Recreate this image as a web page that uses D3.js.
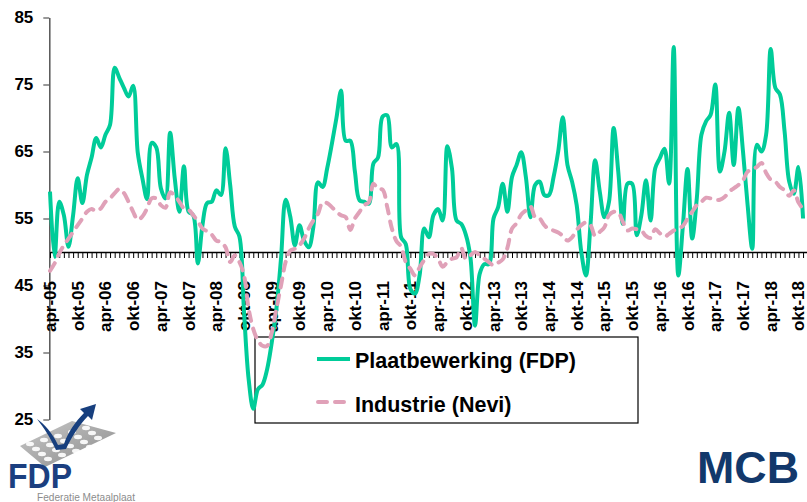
<!DOCTYPE html>
<html>
<head>
<meta charset="utf-8">
<script src="https://cdn.jsdelivr.net/npm/d3@7"></script>
<style>
  body { margin: 0; background: #fff; }
  svg { display: block; font-family: "Liberation Sans", Arial, sans-serif; }
</style>
</head>
<body>
<svg id="chart" width="807" height="502"></svg>
<script>
// monthly index, apr-05 .. nov-18
const plaat = [
  59, 49.3, 57.5, 55.5, 50.8, 55.5, 61, 57.3, 61.5, 64.1, 67, 65.6,
  67.5, 69, 77.5, 76, 74.5, 73.2, 74.8, 64.8, 61, 57.9, 66.3, 65.6,
  59.5, 58, 67.8, 61, 56, 62.8, 56, 55.5, 48.3, 54, 57.3, 57.5,
  59.2, 58.5, 65.5, 60, 53.8, 52.3, 41, 31, 26.6, 29.5, 30.2, 32.5,
  36.5, 41.5, 49, 57.8, 55.3, 51, 54, 51.7, 50.7, 53.7, 60.4, 59.7,
  62.5, 66.1, 70, 74.1, 66.6, 66.6, 62, 57.7, 57.5, 57.2, 63.2, 64.1,
  70.2, 70.4, 65.6, 66.1, 52.2, 51.2, 44.5, 43.8, 46.5, 53.5, 52.2, 55.5,
  56.4, 54.7, 65.8, 62.5, 54.7, 54.2, 52.6, 49.2, 39, 46.7, 48.2, 48.2,
  55, 56.7, 60.2, 56, 61.2, 63, 64.9, 61.2, 55.2, 60, 60.5, 58.5,
  58.5, 61.2, 65, 70.1, 63, 60.5, 57, 50, 46.5, 54.2, 63.7, 59,
  55.2, 57.5, 68.5, 62, 54.2, 60.2, 60.2, 52.5, 55.5, 60.7, 54.7, 62.5,
  64, 65.4, 60.2, 80.6, 46.5, 54, 62.4, 52, 58, 67.5, 69.5, 70.5,
  75, 62, 65, 70.8, 63, 71.5, 65, 57, 50.5, 66, 65, 67.5,
  80.3, 74.5, 73.5, 68, 60.5, 58.7, 62.7, 55
];

const nevi = [
  47.2, 48.3, 49.8, 51, 52, 53, 54, 55, 56, 56.4, 56.1, 56.5,
  57.5, 58, 58.8, 59.4, 58.8, 57.5, 56, 54.8, 55.3, 56.5, 58, 58,
  57, 56.6, 58.9, 58.4, 57.5, 56.5, 56.3, 55.5, 54.6, 53.5, 53.1, 52.6,
  51.7, 51.5, 50.7, 48.5, 49.5, 48.5, 46.5, 41.5, 38.5, 36.8, 36, 36,
  38, 41.5, 45, 48.5, 50.2, 50.5, 51, 52, 53.5, 54.7, 55.7, 57.4,
  57.3, 56.7, 56, 55.5, 55.2, 53.3, 55, 56, 57, 57.4, 60.2, 59.4,
  59.3, 56.7, 53.5, 51.6, 50.8, 48.5, 47.5, 46.5, 47.7, 48.8, 49.7, 49.7,
  49, 47.8, 48.5, 49, 49.2, 50.6, 49, 49.5, 50, 49.5, 49, 48.5,
  48, 48.4, 48.9, 50.6, 53.5, 54.3, 55.6, 56.2, 56.8, 55.2, 55, 54,
  53.4, 53.2, 52.9, 52.4, 51.7, 52.2, 53.3, 54, 54.4, 54, 52.4, 53,
  53.7, 55.5, 56, 55.9, 54.5, 53.2, 53.5, 53.4, 53.2, 52.4, 52.1, 53.4,
  52.8, 52.3, 52.7, 53.2, 53.5, 53.9, 55, 56, 57, 57.5, 58.1, 58,
  57.8, 57.8, 58.2, 59, 59.5, 60, 60.7, 62, 62.3, 62.7, 63.3, 61.8,
  60.8, 60.5, 59.7, 59.2, 58.4, 59.2, 57.4, 56.4
];

const tickLabels = [
  "apr-05", "okt-05", "apr-06", "okt-06", "apr-07", "okt-07", "apr-08",
  "okt-08", "apr-09", "okt-09", "apr-10", "okt-10", "apr-11", "okt-11",
  "apr-12", "okt-12", "apr-13", "okt-13", "apr-14", "okt-14", "apr-15",
  "okt-15", "apr-16", "okt-16", "apr-17", "okt-17", "apr-18", "okt-18"
];
const yTicks = [25, 35, 45, 55, 65, 75, 85];
const seriesNames = ["Plaatbewerking (FDP)", "Industrie (Nevi)"];

const green = "#00cc99";
const pink = "#e0a1b8";

const svg = d3.select("#chart");

const x = d3.scaleLinear().domain([0, 164]).range([50, 50 + 164 * 4.62]);
const y = d3.scaleLinear().domain([25, 85]).range([419.5, 17.5]);

// y axis
const yAxis = svg.append("g")
  .attr("transform", "translate(49.3,0)")
  .call(d3.axisLeft(y).tickValues(yTicks).tickSize(6).tickSizeOuter(0).tickPadding(10));
yAxis.select(".domain").attr("stroke", "#555").attr("stroke-width", 1.5);
yAxis.selectAll(".tick line").attr("stroke", "#555").attr("stroke-width", 1.2);
yAxis.selectAll(".tick text")
  .attr("font-family", "Liberation Sans, Arial, sans-serif")
  .attr("font-size", 17).attr("font-weight", "bold").attr("fill", "#000");

// x axis crossing at 50
const xAxis = svg.append("g")
  .attr("transform", `translate(0,${y(50)})`)
  .call(d3.axisBottom(x).tickValues(d3.range(0, 165)).tickSize(6).tickSizeOuter(0).tickFormat(""));
xAxis.select(".domain").attr("stroke", "#000").attr("stroke-width", 1.5);
xAxis.selectAll(".tick line").attr("stroke", "#000").attr("stroke-width", 1);

svg.append("g")
  .selectAll("text")
  .data(tickLabels)
  .join("text")
  .attr("transform", (d, i) => `translate(${x(i * 6) + 6},281) rotate(-90)`)
  .attr("text-anchor", "end")
  .attr("font-size", 17)
  .attr("font-weight", "bold")
  .text(d => d);

// legend box (lines run over it)
svg.append("rect")
  .attr("x", 255).attr("y", 337).attr("width", 383).attr("height", 86)
  .attr("fill", "none").attr("stroke", "#000").attr("stroke-width", 1.2);

const line = d3.line()
  .x((d, i) => x(i))
  .y(d => y(d))
  .curve(d3.curveCatmullRom.alpha(0.5));

svg.append("path")
  .attr("d", line(plaat))
  .attr("fill", "none")
  .attr("stroke", green)
  .attr("stroke-width", 4)
  .attr("stroke-linejoin", "round");

svg.append("path")
  .attr("d", line(nevi))
  .attr("fill", "none")
  .attr("stroke", pink)
  .attr("stroke-width", 4)
  .attr("stroke-dasharray", "9,8")
  .attr("stroke-linecap", "round")
  .attr("stroke-linejoin", "round");

// legend entries
const legend = svg.append("g");
legend.append("line")
  .attr("x1", 317).attr("x2", 350).attr("y1", 359).attr("y2", 359)
  .attr("stroke", green).attr("stroke-width", 4);
legend.append("line")
  .attr("x1", 318).attr("x2", 350).attr("y1", 402).attr("y2", 402)
  .attr("stroke", pink).attr("stroke-width", 4)
  .attr("stroke-dasharray", "9,8").attr("stroke-linecap", "round");
legend.selectAll("text.lbl")
  .data(seriesNames)
  .join("text")
  .attr("class", "lbl")
  .attr("x", 355)
  .attr("y", (d, i) => 368 + i * 44)
  .attr("font-size", 21.5)
  .attr("font-weight", "bold")
  .text(d => d);

// FDP logo (rough)
const logo = svg.append("g");
const plate = [[20, 446], [72, 421], [116, 433], [45, 467]];
const grad = svg.append("defs").append("linearGradient")
  .attr("id", "plateGrad").attr("x1", 0).attr("y1", 0).attr("x2", 1).attr("y2", 1);
grad.append("stop").attr("offset", 0).attr("stop-color", "#c9c9c9");
grad.append("stop").attr("offset", 1).attr("stop-color", "#8a8a8a");
logo.append("polygon")
  .attr("points", plate.map(p => p.join(",")).join(" "))
  .attr("fill", "url(#plateGrad)");
const holes = [];
for (let r = 0; r < 4; r++) {
  for (let c = 0; c < 5; c++) {
    holes.push([30 + c * 14 + r * 6, 444 + r * 5 - c * 4]);
  }
}
logo.selectAll("ellipse")
  .data(holes)
  .join("ellipse")
  .attr("cx", d => d[0]).attr("cy", d => d[1])
  .attr("rx", 4).attr("ry", 2.2)
  .attr("fill", "#fff").attr("opacity", 0.9);
logo.append("path")
  .attr("d", "M37,419 C44,424 52,432 58,445 L64,444 C68,432 76,421 84,413 L80,409 L96,404 L92,420 L88,416 C80,424 72,436 66,449 L56,450 C50,437 44,428 37,419 Z")
  .attr("fill", "#173f7e");
logo.append("text")
  .attr("x", 8).attr("y", 488)
  .attr("font-size", 35).attr("font-weight", "bold")
  .attr("textLength", 64).attr("lengthAdjust", "spacingAndGlyphs")
  .attr("fill", "#1b3f80")
  .text("FDP");
logo.append("text")
  .attr("x", 37).attr("y", 501)
  .attr("font-size", 10.5)
  .attr("textLength", 98).attr("lengthAdjust", "spacingAndGlyphs")
  .attr("fill", "#8c8c8c")
  .text("Federatie Metaalplaat");

// MCB logo
svg.append("text")
  .attr("x", 697).attr("y", 483)
  .attr("font-size", 44).attr("font-weight", "bold")
  .attr("textLength", 102).attr("lengthAdjust", "spacingAndGlyphs")
  .attr("fill", "#12386b")
  .text("MCB");
</script>
</body>
</html>
